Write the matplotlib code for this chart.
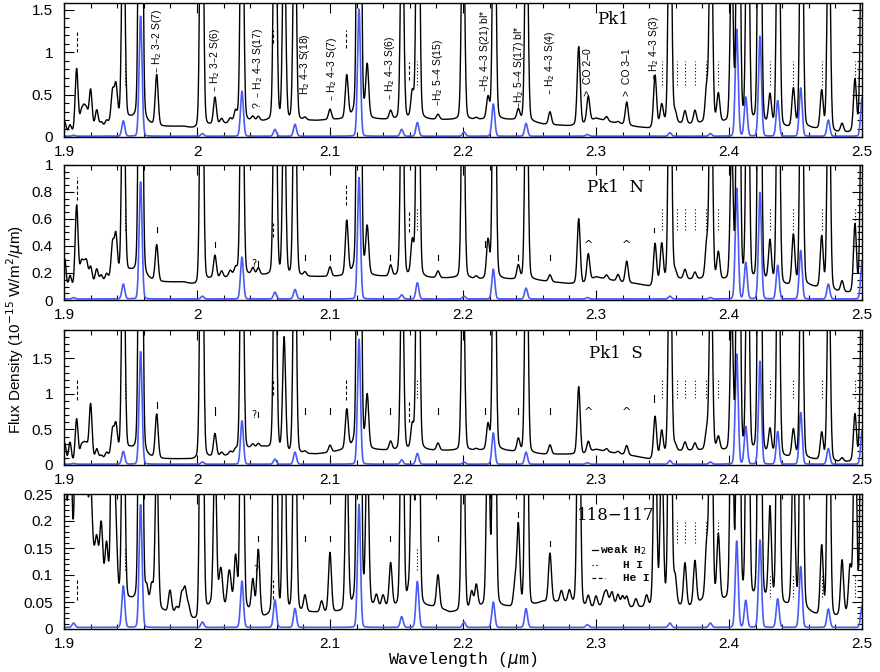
import numpy as np
import matplotlib
matplotlib.use('Agg')
import matplotlib.pyplot as plt
from matplotlib.ticker import MultipleLocator, FuncFormatter

# ---------------- data ----------------
panel_names = ['Pk1', 'Pk1  N', 'Pk1  S', '118\u2212117']
y_tops = [1.58, 1.0, 1.9, 0.25]

# continuum level, sampled every 0.01 um from 1.90 to 2.50
cont_wave = [round(1.90 + 0.01 * i, 2) for i in range(61)]
cont_pk1 = [0.02, 0.05, 0.10, 0.12, 0.20, 0.20, 0.15, 0.12, 0.12, 0.12, 0.08, 0.13, 0.15, 0.17, 0.18,
            0.18, 0.18, 0.18, 0.19, 0.19, 0.20, 0.20, 0.22, 0.20, 0.20, 0.20, 0.20, 0.20, 0.20, 0.20,
            0.20, 0.20, 0.20, 0.20, 0.20, 0.18, 0.15, 0.14, 0.13, 0.15, 0.22, 0.18, 0.15, 0.12, 0.10,
            0.15, 0.15, 0.15, 0.16, 0.16, 0.16, 0.15, 0.15, 0.12, 0.10, 0.10, 0.10, 0.08, 0.05, 0.05, 0.08]
cont_pk1n = [0.05, 0.10, 0.12, 0.13, 0.17, 0.20, 0.15, 0.13, 0.13, 0.13, 0.10, 0.15, 0.16, 0.18, 0.18,
             0.18, 0.17, 0.17, 0.17, 0.17, 0.17, 0.17, 0.18, 0.17, 0.17, 0.17, 0.17, 0.16, 0.16, 0.16,
             0.16, 0.15, 0.15, 0.15, 0.15, 0.15, 0.14, 0.13, 0.12, 0.12, 0.17, 0.15, 0.13, 0.12, 0.10,
             0.13, 0.15, 0.15, 0.15, 0.14, 0.14, 0.13, 0.12, 0.12, 0.10, 0.10, 0.10, 0.08, 0.06, 0.05, 0.05]
cont_pk1s = [0.00, 0.02, 0.05, 0.08, 0.15, 0.20, 0.10, 0.08, 0.08, 0.08, 0.06, 0.10, 0.12, 0.15, 0.22,
             0.25, 0.20, 0.15, 0.15, 0.15, 0.17, 0.20, 0.22, 0.20, 0.20, 0.20, 0.20, 0.20, 0.20, 0.20,
             0.20, 0.20, 0.20, 0.20, 0.18, 0.16, 0.15, 0.15, 0.15, 0.15, 0.22, 0.18, 0.15, 0.12, 0.08,
             0.12, 0.18, 0.20, 0.20, 0.20, 0.18, 0.15, 0.15, 0.12, 0.10, 0.10, 0.08, 0.06, 0.04, 0.04, 0.06]
cont_118 = [0.10, 0.15, 0.15, 0.08, 0.05, 0.05, 0.04, 0.035, 0.03, 0.03, 0.01, 0.04, 0.04, 0.04, 0.03,
            0.02, 0.02, 0.03, 0.03, 0.03, 0.03, 0.03, 0.04, 0.04, 0.04, 0.04, 0.04, 0.04, 0.04, 0.03,
            0.03, 0.04, 0.04, 0.04, 0.04, 0.04, 0.05, 0.05, 0.05, 0.04, 0.04, 0.05, 0.04, 0.04, 0.04,
            0.05, 0.04, 0.04, 0.05, 0.05, 0.05, 0.05, 0.05, 0.05, 0.04, 0.04, 0.03, 0.02, 0.02, 0.03, 0.04]

# emission lines in the observed (black) spectra: centres and peak heights above continuum
line_wave = [1.9005, 1.9045, 1.9095, 1.9130, 1.9150, 1.9170, 1.9200, 1.9246, 1.9280, 1.9320, 1.9365, 1.9390,
             1.9446, 1.9576, 1.9697, 2.0035, 2.0135, 2.0185, 2.0250, 2.0290, 2.0338, 2.0420, 2.0461,
             2.0587, 2.0655, 2.0735, 2.0812, 2.1000, 2.1126, 2.1218, 2.1280, 2.1456, 2.1542, 2.1619,
             2.1661, 2.1812, 2.2000, 2.2100, 2.2188, 2.2235, 2.2416, 2.2477, 2.2654, 2.2870, 2.2942,
             2.3080, 2.3166, 2.3231, 2.3444, 2.3494, 2.3556, 2.3595, 2.3669, 2.3744, 2.3832, 2.3864,
             2.3920, 2.4020, 2.4070, 2.4140, 2.4230, 2.4308, 2.4370, 2.4484, 2.4545, 2.4697, 2.4750,
             2.4850, 2.4947, 2.5000]
line_pk1 = [0.15, 0.10, 0.75, 0.20, 0.22, 0.20, 0.45, 0.20, 0.05, 0.05, 0.35, 0.40,
            3.0, 10.0, 0.60, 5.0, 0.32, 0.06, 0.05, 0.12, 4.0, 0.05, 0.05,
            4.0, 2.5, 3.0, 0.03, 0.12, 0.50, 12.0, 0.60, 0.10, 3.0, 0.30,
            5.0, 0.06, 3.0, 0.02, 0.25, 4.0, 0.12, 3.0, 0.15, 0.92, 0.30,
            0.05, 0.02, 0.27, 0.60, 0.22, 4.0, 0.12, 0.15, 0.15, 0.40, 3.0,
            0.33, 2.0, 6.0, 4.0, 6.0, 0.35, 4.0, 0.45, 4.0, 0.45, 3.0,
            0.10, 0.60, 3.0]
line_pk1n = [0.25, 0.10, 0.60, 0.15, 0.12, 0.15, 0.12, 0.10, 0.05, 0.05, 0.25, 0.30,
             2.0, 6.0, 0.27, 3.0, 0.17, 0.05, 0.04, 0.05, 2.5, 0.05, 0.05,
             2.5, 1.5, 2.0, 0.03, 0.07, 0.40, 8.0, 0.34, 0.08, 2.0, 0.25,
             3.0, 0.05, 2.0, 0.02, 0.28, 3.0, 0.10, 2.0, 0.05, 0.48, 0.20,
             0.03, 0.05, 0.16, 0.30, 0.28, 2.5, 0.05, 0.07, 0.05, 0.25, 2.0,
             0.20, 1.0, 4.0, 2.5, 4.0, 0.30, 2.5, 0.37, 2.5, 0.38, 2.0,
             0.08, 0.50, 2.0]
line_pk1s = [0.30, 0.30, 0.62, 0.20, 0.20, 0.20, 0.80, 0.15, 0.05, 0.07, 0.35, 0.40,
             4.0, 12.0, 0.62, 6.0, 0.32, 0.05, 0.04, 0.05, 5.0, 0.05, 0.05,
             4.0, 1.6, 4.0, 0.03, 0.10, 0.55, 15.0, 0.72, 0.12, 3.0, 0.33,
             6.0, 0.10, 3.0, 0.02, 0.35, 5.0, 0.18, 4.0, 0.13, 0.95, 0.15,
             0.04, 0.03, 0.13, 0.58, 0.35, 4.0, 0.08, 0.12, 0.10, 0.25, 3.0,
             0.18, 2.0, 8.0, 4.0, 8.0, 0.35, 4.0, 0.38, 4.0, 0.38, 3.0,
             0.05, 0.65, 3.0]
line_118 = [0.30, 0.30, 0.40, 0.20, 0.12, 0.10, 0.12, 0.05, 0.10, 0.08, 0.50, 0.12,
            0.50, 1.5, 0.30, 1.0, 0.30, 0.04, 0.04, 0.09, 0.8, 0.06, 0.12,
            1.0, 0.50, 0.60, 0.03, 0.11, 0.30, 2.0, 0.30, 0.08, 0.60, 0.40,
            0.80, 0.06, 0.50, 0.04, 0.40, 0.80, 0.15, 0.60, 0.09, 0.60, 0.02,
            0.02, 0.02, 0.02, 0.40, 0.30, 0.80, 0.05, 0.08, 0.08, 0.10, 0.60,
            0.12, 0.50, 1.0, 0.80, 1.0, 0.17, 0.80, 0.30, 0.80, 0.13, 0.60,
            0.10, 0.40, 0.60]
# extra weak features that make the noisy 118-117 spectrum
extra_wave_118 = [1.9622, 1.9660, 1.9797, 1.9847, 1.9885, 1.9910, 1.9935, 2.0173, 2.0236, 2.0937,
                  2.1349, 2.1399, 2.1589, 2.2065, 2.2391, 2.2740, 2.2800, 2.3000, 2.3060, 2.3120,
                  2.3200, 2.3300, 2.3380, 2.4910]
extra_amp_118 = [0.03, 0.04, 0.04, 0.01, 0.035, 0.045, 0.02, 0.04, 0.04, 0.02,
                 0.02, 0.02, 0.02, 0.03, 0.04, 0.02, 0.02, 0.02, 0.015, 0.02,
                 0.02, 0.015, 0.02, 0.08]

# blue comparison spectra
blue_wave = [1.9072, 1.9446, 1.9576, 2.0041, 2.0338, 2.0586, 2.0737, 2.1218, 2.1539, 2.1657, 2.2008,
             2.2228, 2.2474, 2.2935, 2.3556, 2.3860, 2.4058, 2.4126, 2.4233, 2.4366, 2.4539, 2.4747, 2.5001]
blue_pk1 = [0.01, 0.18, 1.42, 0.03, 0.53, 0.08, 0.14, 1.50, 0.08, 0.16, 0.05,
            0.38, 0.15, 0.02, 0.04, 0.03, 1.26, 0.46, 1.18, 0.42, 0.57, 0.19, 0.45]
blue_pk1n = [0.01, 0.11, 0.87, 0.02, 0.31, 0.05, 0.07, 0.90, 0.03, 0.12, 0.02,
             0.22, 0.08, 0.01, 0.02, 0.01, 0.82, 0.27, 0.79, 0.25, 0.36, 0.11, 0.28]
blue_pk1s = [0.01, 0.18, 1.59, 0.03, 0.61, 0.07, 0.17, 1.76, 0.06, 0.15, 0.03,
             0.44, 0.17, 0.02, 0.05, 0.03, 1.55, 0.53, 1.45, 0.46, 0.73, 0.22, 0.48]
blue_118 = [0.008, 0.077, 0.228, 0.010, 0.086, 0.051, 0.035, 0.228, 0.020, 0.085, 0.010,
            0.047, 0.035, 0.005, 0.008, 0.008, 0.160, 0.050, 0.162, 0.053, 0.113, 0.034, 0.040]
blue_floor = [0.010, 0.008, 0.012, 0.003]

# line identification markers
hei_wave = [1.9094, 2.0571, 2.1118, 2.1595]
hi_wave = [1.9459, 2.1652, 2.3494, 2.3607, 2.3669, 2.3744, 2.3825, 2.3920, 2.4308, 2.4484, 2.4697, 2.4947]
weak_h2_wave = [1.9697, 2.0135, 2.0461, 2.0812, 2.1000, 2.1453, 2.1811, 2.2166, 2.2412, 2.2654, 2.3433]

h2_labels = ['\u2013 H$_2$ 3\u20132 S(7)', '\u2013 H$_2$ 3\u20132 S(6)', '?  \u2013 H$_2$ 4\u20133 S(17)',
             'H$_2$ 4\u20133 S(18)', '\u2013 H$_2$ 4\u20133 S(7)', '\u2013 H$_2$ 4\u20133 S(6)',
             '\u2013H$_2$ 5\u20134 S(15)', '\u2013H$_2$ 4\u20133 S(21) bl*', '\u2013H$_2$ 5\u20134 S(17) bl*',
             '\u2013 H$_2$ 4\u20133 S(4)', '>  CO 2\u20130', '>  CO 3\u20131', '\u2013 H$_2$ 4\u20133 S(3)']
h2_label_wave = [1.9697, 2.0135, 2.0455, 2.0812, 2.1013, 2.1451, 2.1815, 2.2166, 2.2423, 2.2654,
                 2.2942, 2.3231, 2.3439]
h2_label_base = [0.76, 0.53, 0.33, 0.50, 0.42, 0.44, 0.36, 0.53, 0.34, 0.50, 0.48, 0.48, 0.67]

conts = [cont_pk1, cont_pk1n, cont_pk1s, cont_118]
lines = [line_pk1, line_pk1n, line_pk1s, line_118]
blues = [blue_pk1, blue_pk1n, blue_pk1s, blue_118]

# ---------------- figure ----------------
W, H = 880, 672
fig = plt.figure(figsize=(W / 100, H / 100), dpi=100)
boxes = [(3, 137), (165, 300), (330, 465), (494, 629)]
x0, x1 = 64, 862

wave = np.linspace(1.9, 2.5, 2401)
sig_k = 0.0011
sig_b = 0.0011
lor_frac = 0.12

def spectrum(base, centres, amps, sig, frac):
    s = np.array(base, dtype=float)
    g = 1.2 * sig
    for c, a in zip(centres, amps):
        d = wave - c
        s = s + a * ((1 - frac) * np.exp(-0.5 * (d / sig) ** 2) + frac / (1 + (d / g) ** 2))
    return s

ymaj = [0.5, 0.2, 0.5, 0.05]
ymin = [0.1, 0.05, 0.1, 0.01]

# marker vertical extents per panel (data units)
hei_ext = [[(1.00, 1.26), (1.11, 1.26), (1.05, 1.26), (0.67, 0.89)],
           [(0.74, 0.91), (0.47, 0.57), (0.70, 0.87), (0.50, 0.67)],
           [(0.91, 1.22), (0.98, 1.22), (0.91, 1.22), (0.60, 0.91)],
           [(0.054, 0.095), (0.055, 0.090), None, None]]
hi_ext = [(0.61, 0.90), (0.52, 0.69), (0.94, 1.19), None]
weak_ext = [None,
            [(0.50, 0.54), (0.39, 0.43), (0.25, 0.29), (0.30, 0.33), (0.30, 0.33), (0.30, 0.33), (0.30, 0.33),
             (0.39, 0.44), (0.30, 0.33), (0.30, 0.33), (0.50, 0.53)],
            [(0.80, 0.88), (0.71, 0.81), (0.67, 0.75), (0.72, 0.80), (0.72, 0.80), (0.72, 0.80), (0.72, 0.80),
             (0.72, 0.80), (0.72, 0.80), (0.72, 0.80), (0.88, 0.98)],
            [None, None, (0.163, 0.172), (0.163, 0.172), (0.163, 0.172), (0.163, 0.172), (0.163, 0.172),
             None, (0.207, 0.216), (0.154, 0.163), None]]
label_pos = [(2.313, 1.38), (2.315, 0.83), (2.315, 1.57), (2.315, 0.21)]

axes = []
for i in range(4):
    top, bot = boxes[i]
    ax = fig.add_axes([x0 / W, 1 - bot / H, (x1 - x0) / W, (bot - top) / H])
    axes.append(ax)
    base_k = np.interp(wave, cont_wave, conts[i])
    sk = spectrum(base_k, line_wave, lines[i], sig_k, lor_frac)
    if i == 3:
        sk = spectrum(sk, extra_wave_118, extra_amp_118, sig_k, 0.0)
    sb = spectrum(np.full_like(wave, blue_floor[i]), blue_wave, blues[i], sig_b, 0.05)
    ax.plot(wave, sb, color='#4a5af5', lw=1.2, zorder=2)
    ax.plot(wave, sk, color='black', lw=1.0, zorder=3)
    ax.set_xlim(1.9, 2.5)
    ax.set_ylim(0, y_tops[i])
    ax.xaxis.set_major_locator(MultipleLocator(0.1))
    ax.xaxis.set_minor_locator(MultipleLocator(0.02))
    ax.yaxis.set_major_locator(MultipleLocator(ymaj[i]))
    ax.yaxis.set_minor_locator(MultipleLocator(ymin[i]))
    ax.xaxis.set_major_formatter(FuncFormatter(lambda v, p: ('%.1f' % v).rstrip('0').rstrip('.')))
    ax.yaxis.set_major_formatter(FuncFormatter(lambda v, p: ('%.2f' % v).rstrip('0').rstrip('.')))
    ax.tick_params(which='both', direction='in', top=True, right=True, width=0.8)
    ax.tick_params(which='major', length=7)
    ax.tick_params(which='minor', length=3.5)
    ax.tick_params(axis='x', which='major', pad=6)
    ax.tick_params(axis='y', which='major', pad=8)
    for lab in ax.get_xticklabels() + ax.get_yticklabels():
        lab.set_fontfamily('Liberation Sans')
        lab.set_fontsize(11)
    for sp in ax.spines.values():
        sp.set_linewidth(1.0)

    # markers
    for w, ext in zip(hei_wave, hei_ext[i]):
        if ext:
            ax.plot([w, w], ext, color='black', lw=0.8, ls=(0, (3, 2)), zorder=4)
    if hi_ext[i]:
        for w in hi_wave:
            ax.plot([w, w], hi_ext[i], color='black', lw=0.8, ls=(0, (1, 2)), zorder=4)
    if weak_ext[i]:
        for w, ext in zip(weak_h2_wave, weak_ext[i]):
            if ext:
                ax.plot([w, w], ext, color='black', lw=0.8, zorder=4)

    ax.text(*label_pos[i], panel_names[i], ha='center', va='center', fontsize=12,
            family='DejaVu Serif', zorder=5)

# panel 4 H I markers: two groups at different heights
ax4 = axes[3]
for w in hi_wave[3:8]:
    ax4.plot([w, w], (0.16, 0.20), color='black', lw=0.8, ls=(0, (1, 2)))
for w in hi_wave[8:]:
    ax4.plot([w, w], (0.06, 0.10), color='black', lw=0.8, ls=(0, (1, 2)))
for w in hi_wave[:2]:
    ax4.plot([w, w], (0.11, 0.15), color='black', lw=0.8, ls=(0, (1, 2)))
ax4.text(2.0440, 0.11, '?', fontsize=7, ha='center', va='center')

# "?" next to the 2.046 tick in panels 2,3
axes[1].text(2.0430, 0.27, '?', fontsize=7, ha='center', va='center')
axes[2].text(2.0430, 0.71, '?', fontsize=7, ha='center', va='center')

# CO carets for panels 2,3
for ax, yv in ((axes[1], 0.41), (axes[2], 0.75)):
    for w in (2.2942, 2.3231):
        ax.text(w, yv, '^', fontsize=8, ha='center', va='center')

# rotated identifications in top panel
for w, yb, t in zip(h2_label_wave, h2_label_base, h2_labels):
    axes[0].text(w, yb, t, rotation=90, ha='center', va='bottom', fontsize=7.5,
                 family='Liberation Sans', zorder=5)

# legend in bottom panel
lx0, lx1 = 2.297, 2.3015
ax4.plot([lx0, lx1], [0.147, 0.147], color='black', lw=0.9)
ax4.text(2.303, 0.147, 'weak H$_2$', fontsize=8, va='center', ha='left', family='Liberation Mono',
         fontweight='bold')
ax4.plot([lx0, 2.302], [0.119, 0.119], color='black', lw=0.9, ls=(0, (1, 2)))
ax4.text(2.3203, 0.119, 'H I', fontsize=8, va='center', ha='left', family='Liberation Mono',
         fontweight='bold')
ax4.plot([lx0, 2.3068], [0.095, 0.095], color='black', lw=0.9, ls=(0, (3, 2)))
ax4.text(2.3203, 0.095, 'He I', fontsize=8, va='center', ha='left', family='Liberation Mono',
         fontweight='bold')

fig.text(0.017, 0.509, 'Flux Density (10$^{-15}$ W/m$^2$/$\\mu$m)', rotation=90, ha='center', va='center',
         fontsize=11, family='Liberation Sans')
fig.text(0.526, 0.018, 'Wavelength ($\\mu$m)', ha='center', va='center', fontsize=12, family='Liberation Mono')

fig.savefig('out.png', dpi=100)
